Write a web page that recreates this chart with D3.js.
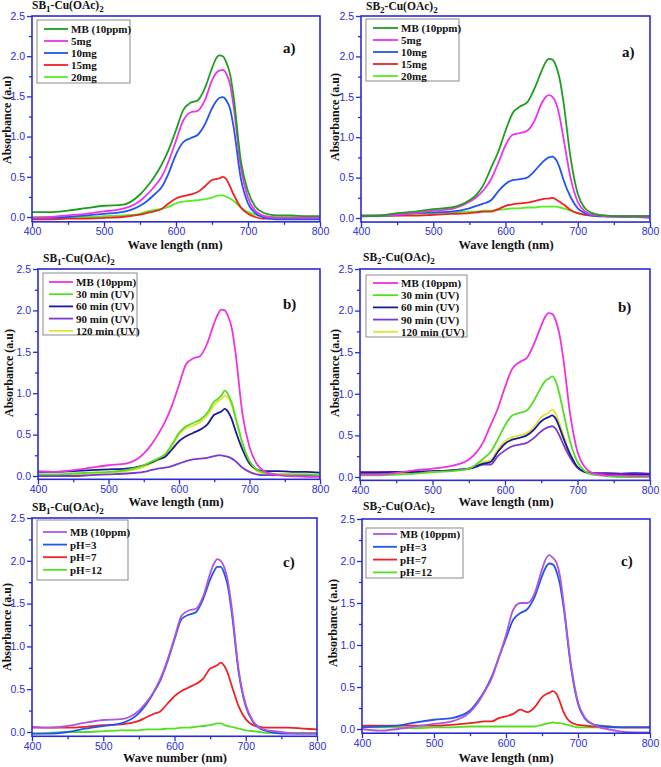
<!DOCTYPE html>
<html><head><meta charset="utf-8">
<script src="https://cdn.jsdelivr.net/npm/d3@7"></script>
<style>body{margin:0;background:#fff} svg{display:block}</style>
</head><body>
<svg id="c" width="661" height="767"></svg>
<script>
// ---------------- DATA ----------------
const wavelengths = [400,425,450,475,500,525,550,560,570,580,590,600,610,620,630,640,650,655,660,665,670,675,680,690,700,710,720,730,740,760,780,800];
const xTicks = [400,500,600,700,800];
const xMinorTicks = [450,550,650,750];
const yTicks = [0,0.5,1,1.5,2,2.5];
const yMinorTicks = [0.25,0.75,1.25,1.75,2.25];

const legendA = ["MB (10ppm)","5mg","10mg","15mg","20mg"];
const legendB = ["MB (10ppm)","30 min (UV)","60 min (UV)","90 min (UV)","120 min (UV)"];
const legendC = ["MB (10ppm)","pH=3","pH=7","pH=12"];

// Panel a) SB1
const a1_MB   = [0.06,0.06,0.08,0.11,0.14,0.15,0.28,0.38,0.50,0.65,0.84,1.08,1.33,1.42,1.45,1.60,1.85,1.96,2.01,2.00,1.92,1.78,1.50,0.70,0.32,0.13,0.06,0.03,0.02,0.02,0.01,0.01];
const a1_5mg  = [-0.01,0.0,0.02,0.04,0.07,0.10,0.20,0.28,0.38,0.50,0.70,0.95,1.20,1.30,1.32,1.45,1.70,1.78,1.82,1.83,1.78,1.65,1.38,0.62,0.24,0.08,0.02,0.0,-0.01,-0.01,-0.01,-0.01];
const a1_10mg = [-0.02,-0.01,0.0,0.02,0.04,0.06,0.14,0.20,0.28,0.37,0.55,0.78,0.93,0.98,1.02,1.15,1.35,1.43,1.48,1.49,1.45,1.35,1.12,0.48,0.17,0.05,0.0,-0.02,-0.03,-0.03,-0.03,-0.03];
const a1_15mg = [-0.03,-0.03,-0.02,-0.02,-0.01,0.0,0.03,0.05,0.07,0.10,0.17,0.23,0.26,0.28,0.31,0.38,0.46,0.47,0.48,0.50,0.47,0.38,0.28,0.12,0.04,0.0,-0.02,-0.02,-0.02,-0.02,-0.02,-0.02];
const a1_20mg = [0.0,0.0,0.0,0.0,0.01,0.02,0.04,0.07,0.09,0.10,0.13,0.17,0.19,0.20,0.21,0.22,0.24,0.26,0.27,0.27,0.25,0.23,0.20,0.12,0.06,0.03,0.01,0.0,0.0,0.0,0.0,0.0];

// Panel a) SB2
const a2_MB   = [0.03,0.03,0.06,0.08,0.11,0.13,0.22,0.29,0.42,0.62,0.82,1.08,1.30,1.38,1.43,1.60,1.82,1.92,1.97,1.96,1.88,1.72,1.45,0.75,0.30,0.12,0.06,0.04,0.03,0.02,0.02,0.02];
const a2_5mg  = [0.03,0.03,0.04,0.06,0.09,0.11,0.20,0.26,0.35,0.48,0.68,0.90,1.03,1.05,1.08,1.20,1.42,1.49,1.52,1.50,1.42,1.25,1.00,0.50,0.20,0.08,0.04,0.03,0.02,0.01,0.01,0.0];
const a2_10mg = [0.02,0.03,0.04,0.06,0.07,0.08,0.12,0.15,0.18,0.22,0.33,0.42,0.47,0.48,0.50,0.58,0.68,0.72,0.75,0.76,0.72,0.62,0.48,0.26,0.12,0.06,0.03,0.02,0.02,0.02,0.02,0.02];
const a2_15mg = [0.03,0.03,0.03,0.03,0.04,0.05,0.06,0.07,0.08,0.08,0.11,0.15,0.17,0.18,0.19,0.21,0.23,0.24,0.24,0.25,0.23,0.20,0.17,0.10,0.06,0.04,0.03,0.03,0.02,0.02,0.02,0.02];
const a2_20mg = [0.02,0.02,0.03,0.05,0.06,0.07,0.08,0.08,0.09,0.09,0.10,0.11,0.12,0.12,0.13,0.13,0.14,0.14,0.14,0.14,0.14,0.13,0.12,0.09,0.06,0.04,0.03,0.02,0.02,0.02,0.02,0.02];

// Panel b) SB1
const b1_MB   = [0.06,0.05,0.07,0.10,0.13,0.15,0.27,0.37,0.50,0.65,0.85,1.10,1.35,1.42,1.45,1.60,1.85,1.95,2.01,2.00,1.92,1.78,1.50,0.75,0.35,0.15,0.06,0.03,0.01,0.0,-0.01,-0.01];
const b1_30   = [0.02,0.02,0.03,0.04,0.05,0.07,0.13,0.17,0.21,0.26,0.38,0.52,0.60,0.64,0.68,0.76,0.90,0.93,0.97,1.03,0.98,0.88,0.72,0.40,0.18,0.08,0.04,0.03,0.02,0.02,0.02,0.01];
const b1_60   = [0.05,0.05,0.06,0.07,0.08,0.09,0.13,0.16,0.20,0.23,0.32,0.42,0.48,0.52,0.56,0.62,0.74,0.76,0.78,0.81,0.77,0.68,0.55,0.32,0.15,0.08,0.06,0.06,0.06,0.05,0.05,0.04];
const b1_90   = [0.0,0.0,0.0,0.01,0.02,0.03,0.05,0.07,0.09,0.10,0.12,0.15,0.18,0.20,0.21,0.22,0.24,0.25,0.25,0.24,0.23,0.21,0.18,0.10,0.05,0.02,0.01,0.01,0.01,0.0,0.0,0.0];
const b1_120  = [0.01,0.01,0.02,0.03,0.04,0.06,0.11,0.15,0.19,0.24,0.36,0.50,0.58,0.61,0.65,0.73,0.86,0.90,0.93,0.97,0.94,0.85,0.70,0.38,0.15,0.06,0.03,0.02,0.02,0.02,0.02,0.02];

// Panel b) SB2
const b2_MB   = [0.03,0.03,0.05,0.08,0.10,0.13,0.21,0.29,0.42,0.62,0.82,1.08,1.30,1.38,1.43,1.60,1.82,1.92,1.97,1.96,1.88,1.72,1.45,0.75,0.30,0.12,0.05,0.03,0.02,0.02,0.01,0.01];
const b2_30   = [0.02,0.02,0.03,0.04,0.06,0.07,0.10,0.15,0.22,0.30,0.45,0.62,0.74,0.77,0.80,0.92,1.08,1.15,1.18,1.21,1.15,1.00,0.80,0.42,0.18,0.07,0.03,0.02,0.01,0.0,0.0,0.0];
const b2_60   = [0.05,0.05,0.06,0.06,0.07,0.08,0.10,0.13,0.16,0.18,0.30,0.40,0.45,0.47,0.50,0.57,0.67,0.70,0.72,0.74,0.70,0.60,0.48,0.27,0.12,0.06,0.04,0.03,0.03,0.03,0.03,0.03];
const b2_90   = [0.06,0.06,0.06,0.06,0.07,0.08,0.10,0.12,0.15,0.15,0.25,0.32,0.37,0.39,0.41,0.47,0.55,0.58,0.60,0.61,0.58,0.50,0.40,0.23,0.11,0.06,0.05,0.05,0.05,0.04,0.05,0.04];
const b2_120  = [0.04,0.04,0.05,0.05,0.06,0.07,0.10,0.14,0.18,0.20,0.33,0.43,0.48,0.50,0.53,0.60,0.72,0.75,0.77,0.81,0.76,0.65,0.52,0.28,0.12,0.06,0.04,0.04,0.04,0.03,0.03,0.03];

// Panel c) SB1
const c1_MB   = [0.06,0.05,0.07,0.11,0.14,0.15,0.25,0.34,0.46,0.62,0.84,1.10,1.36,1.42,1.44,1.58,1.85,1.96,2.02,2.00,1.92,1.76,1.48,0.73,0.32,0.13,0.05,0.02,0.01,-0.01,-0.02,-0.02];
const c1_pH3  = [-0.02,-0.02,0.0,0.04,0.07,0.10,0.22,0.32,0.45,0.60,0.82,1.08,1.32,1.37,1.40,1.55,1.78,1.87,1.93,1.93,1.85,1.70,1.42,0.70,0.30,0.12,0.04,0.01,-0.01,-0.02,-0.02,-0.02];
const c1_pH7  = [0.05,0.05,0.05,0.06,0.08,0.09,0.13,0.17,0.21,0.24,0.33,0.42,0.48,0.52,0.56,0.62,0.74,0.76,0.78,0.81,0.77,0.68,0.55,0.30,0.15,0.08,0.06,0.05,0.05,0.05,0.04,0.03];
const c1_pH12 = [-0.02,-0.01,0.0,0.0,0.01,0.02,0.02,0.03,0.03,0.03,0.04,0.04,0.05,0.05,0.06,0.07,0.08,0.09,0.10,0.10,0.08,0.07,0.06,0.04,0.02,0.01,0.0,-0.01,-0.01,-0.01,-0.01,-0.01];

// Panel c) SB2
const c2_MB   = [0.0,-0.02,0.0,0.03,0.06,0.09,0.20,0.30,0.44,0.60,0.85,1.12,1.42,1.50,1.50,1.62,1.90,2.02,2.07,2.04,1.98,1.82,1.50,0.78,0.32,0.13,0.06,0.02,0.0,-0.03,-0.04,-0.04];
const c2_pH3  = [0.02,0.03,0.04,0.08,0.11,0.13,0.22,0.32,0.45,0.62,0.85,1.08,1.30,1.38,1.43,1.58,1.82,1.92,1.97,1.96,1.88,1.72,1.45,0.75,0.30,0.12,0.06,0.04,0.03,0.02,0.02,0.02];
const c2_pH7  = [0.04,0.04,0.04,0.04,0.04,0.05,0.07,0.08,0.09,0.09,0.13,0.15,0.18,0.23,0.20,0.26,0.38,0.41,0.43,0.45,0.42,0.32,0.20,0.08,0.05,0.04,0.03,0.03,0.03,0.02,0.02,0.02];
const c2_pH12 = [0.03,0.02,0.02,0.01,0.02,0.02,0.03,0.03,0.03,0.03,0.03,0.03,0.03,0.03,0.03,0.03,0.05,0.06,0.07,0.08,0.07,0.07,0.06,0.04,0.02,0.02,0.02,0.02,0.02,0.02,0.02,0.02];

// ---------------- STYLE ----------------
const colorsA = ["#1e9e1e","#ee33ee","#2255ee","#ee2222","#55ee22"];
const colorsB = ["#ee33dd","#55dd22","#1a1a9e","#7a3ad0","#e2e232"];
const colorsC = ["#b055e0","#2255ee","#ee2222","#55dd22"];
const axisBlue = "#2b2bd6";
const serif = "'Liberation Serif','Times New Roman',serif";
const sans = "'Liberation Sans',Arial,sans-serif";

const panels = [
  {sub:"1", tag:"a)", xlabel:"Wave length (nm)", names:legendA, colors:colorsA,
   series:[a1_MB,a1_5mg,a1_10mg,a1_15mg,a1_20mg], ymin:-0.06,
   g:{x0:32,x1:320,yT:16,y0:217}, lg:{x:37,y:20,w:93,h:63,r0:29,dr:12,lx:44,lx2:68,tx:71},
   tag_xy:[283,53], title_xy:[32,9], ylab_xy:[7,120], xlab_xy:[175,249]},
  {sub:"2", tag:"a)", xlabel:"Wave length (nm)", names:legendA, colors:colorsA,
   series:[a2_MB,a2_5mg,a2_10mg,a2_15mg,a2_20mg], ymin:-0.05,
   g:{x0:361,x1:650,yT:16,y0:218}, lg:{x:366,y:19,w:93,h:62,r0:28,dr:12,lx:373,lx2:398,tx:401},
   tag_xy:[622,57], title_xy:[366,10], ylab_xy:[335,117], xlab_xy:[506,249]},
  {sub:"1", tag:"b)", xlabel:"Wave length (nm)", names:legendB, colors:colorsB,
   series:[b1_MB,b1_30,b1_60,b1_90,b1_120], ymin:-0.04,
   g:{x0:38,x1:320,yT:269,y0:476}, lg:{x:43,y:273,w:94,h:62,r0:282,dr:12.2,lx:49,lx2:73,tx:76},
   tag_xy:[283,309], title_xy:[43,262], ylab_xy:[9,373], xlab_xy:[176,506]},
  {sub:"2", tag:"b)", xlabel:"Wave length (nm)", names:legendB, colors:colorsB,
   series:[b2_MB,b2_30,b2_60,b2_90,b2_120], ymin:-0.04,
   g:{x0:360,x1:650,yT:269,y0:477}, lg:{x:366,y:275,w:101,h:62,r0:283,dr:12.2,lx:373,lx2:398,tx:401},
   tag_xy:[618,312], title_xy:[363,261], ylab_xy:[335,373], xlab_xy:[506,506]},
  {sub:"1", tag:"c)", xlabel:"Wave number (nm)", names:legendC, colors:colorsC,
   series:[c1_MB,c1_pH3,c1_pH7,c1_pH12], ymin:-0.05,
   g:{x0:32,x1:317,yT:518,y0:732}, lg:{x:37,y:520,w:91,h:60,r0:532,dr:12.6,lx:43,lx2:67,tx:70},
   tag_xy:[283,567], title_xy:[32,511], ylab_xy:[7,627], xlab_xy:[175,762]},
  {sub:"2", tag:"c)", xlabel:"Wave length (nm)", names:legendC, colors:colorsC,
   series:[c2_MB,c2_pH3,c2_pH7,c2_pH12], ymin:-0.05,
   g:{x0:362,x1:650,yT:519,y0:729}, lg:{x:366,y:528,w:97,h:50,r0:534,dr:12.8,lx:373,lx2:397,tx:400},
   tag_xy:[621,566], title_xy:[363,510], ylab_xy:[333,623], xlab_xy:[506,762]}
];

const svg = d3.select("#c");

panels.forEach((p, pi) => {
  const g = p.g;
  const x = d3.scaleLinear().domain([400, 800]).range([g.x0, g.x1]);
  const y = d3.scaleLinear().domain([0, 2.5]).range([g.y0, g.yT]);
  const yB = y(p.ymin);
  const root = svg.append("g");

  root.append("clipPath").attr("id", "clip" + pi)
    .append("rect").attr("x", g.x0).attr("y", g.yT).attr("width", g.x1 - g.x0).attr("height", yB - g.yT);

  const line = d3.line().x((d, i) => x(wavelengths[i])).y(d => y(d)).curve(d3.curveMonotoneX);
  const plot = root.append("g").attr("clip-path", `url(#clip${pi})`);
  p.series.slice().reverse().forEach((s, ri) => {
    const k = p.series.length - 1 - ri;
    plot.append("path").datum(s).attr("d", line)
      .attr("fill", "none").attr("stroke", p.colors[k]).attr("stroke-width", 1.8)
      .attr("stroke-linejoin", "round");
  });

  root.append("rect").attr("x", g.x0).attr("y", g.yT).attr("width", g.x1 - g.x0).attr("height", yB - g.yT)
    .attr("fill", "none").attr("stroke", axisBlue).attr("stroke-width", 1.6);

  const yAx = root.append("g").attr("transform", `translate(${g.x0},0)`)
    .call(d3.axisLeft(y).tickValues(yTicks).tickFormat(d3.format(".1f")).tickSize(5).tickSizeOuter(0).tickPadding(2));
  const yAxm = root.append("g").attr("transform", `translate(${g.x0},0)`)
    .call(d3.axisLeft(y).tickValues(yMinorTicks).tickFormat("").tickSize(3).tickSizeOuter(0));
  const xAx = root.append("g").attr("transform", `translate(0,${yB})`)
    .call(d3.axisBottom(x).tickValues(xTicks).tickFormat(d3.format("d")).tickSize(5).tickSizeOuter(0).tickPadding(1));
  const xAxm = root.append("g").attr("transform", `translate(0,${yB})`)
    .call(d3.axisBottom(x).tickValues(xMinorTicks).tickFormat("").tickSize(3).tickSizeOuter(0));
  [yAx, yAxm, xAx, xAxm].forEach(a => {
    a.select(".domain").remove();
    a.selectAll("line").attr("stroke", axisBlue).attr("stroke-width", 1.3);
    a.selectAll("text").attr("fill", axisBlue).style("font-family", sans).style("font-size", "10.5px");
  });

  const L = p.lg;
  root.append("rect").attr("x", L.x).attr("y", L.y).attr("width", L.w).attr("height", L.h)
    .attr("fill", "#fff").attr("stroke", "#8a8a8a").attr("stroke-width", 1);
  p.names.forEach((n, i) => {
    const ry = L.r0 + i * L.dr;
    root.append("line").attr("x1", L.lx).attr("x2", L.lx2).attr("y1", ry).attr("y2", ry)
      .attr("stroke", p.colors[i]).attr("stroke-width", 1.8);
    root.append("text").attr("x", L.tx).attr("y", ry + 4).text(n)
      .style("font-family", serif).style("font-weight", "bold").style("font-size", "11px").attr("fill", "#111");
  });

  root.append("text").attr("x", p.tag_xy[0]).attr("y", p.tag_xy[1]).text(p.tag)
    .style("font-family", serif).style("font-weight", "bold").style("font-size", "15px").attr("fill", "#111");

  const t = root.append("text").attr("x", p.title_xy[0]).attr("y", p.title_xy[1])
    .style("font-family", serif).style("font-weight", "bold").style("font-size", "11.5px").attr("fill", "#111");
  t.append("tspan").text("SB");
  t.append("tspan").attr("dy", 3).style("font-size", "9px").text(p.sub);
  t.append("tspan").attr("dy", -3).text("-Cu(OAc)");
  t.append("tspan").attr("dy", 3).style("font-size", "9px").text("2");

  root.append("text").attr("transform", `translate(${p.ylab_xy[0]},${p.ylab_xy[1]}) rotate(-90)`)
    .attr("text-anchor", "middle").attr("dy", "0.35em").text("Absorbance (a.u)")
    .style("font-family", serif).style("font-weight", "bold").style("font-size", "12px").attr("fill", "#111");
  root.append("text").attr("x", p.xlab_xy[0]).attr("y", p.xlab_xy[1]).attr("text-anchor", "middle")
    .text(p.xlabel)
    .style("font-family", serif).style("font-weight", "bold").style("font-size", "12.5px").attr("fill", "#111");
});
</script>
</body></html>
